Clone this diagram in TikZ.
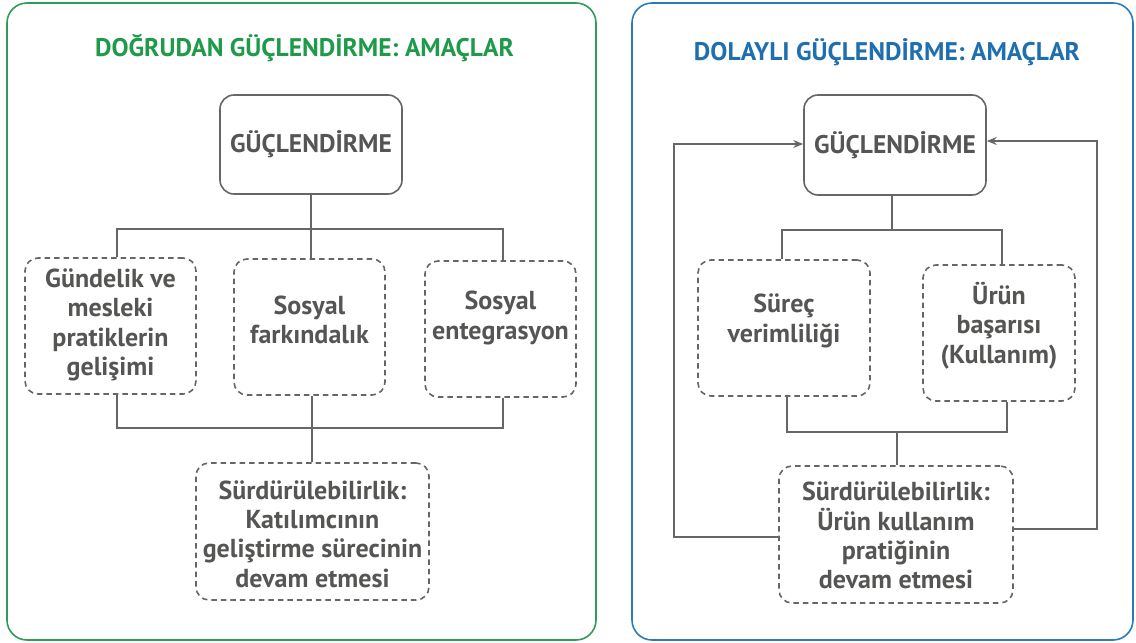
\documentclass[tikz,border=0pt]{standalone}
\usepackage{fontspec}
\setmainfont{PT Sans}
\usetikzlibrary{arrows.meta,calc}
\definecolor{grn}{HTML}{2E9C55}
\definecolor{grntxt}{HTML}{1E9A4A}
\definecolor{blu}{HTML}{2C7BB8}
\definecolor{blutxt}{HTML}{1F6FB0}
\definecolor{txtgray}{HTML}{555654}
\definecolor{lngray}{HTML}{666765}
\begin{document}
\begin{tikzpicture}[x=1pt,y=-1pt,
  panel/.style={line width=1.6pt,rounded corners=20pt},
  ttl/.style={font=\fontsize{25.5}{28}\selectfont\bfseries,inner sep=0pt},
  mainbox/.style={draw=lngray,line width=1.6pt,rounded corners=14pt,inner sep=0pt,
    text=txtgray,font=\fontsize{25.5}{28}\selectfont\bfseries},
  dbox/.style={draw=lngray,line width=1.6pt,dash pattern=on 5.5pt off 4pt,rounded corners=13pt,inner sep=0pt},
  txt/.style={text=txtgray,align=center,inner sep=0pt,font=\fontsize{26}{29.3}\selectfont\bfseries},
  conn/.style={draw=lngray,line width=1.6pt},
  fb/.style={conn,-{Stealth[length=10pt,width=8pt,inset=3.5pt]}}]
\useasboundingbox (0,0) rectangle (1136,643);
% panels
\draw[panel,draw=grn] (7,3) rectangle (596,640);
\draw[panel,draw=blu] (632,3) rectangle (1133,640);
\node[ttl,text=grntxt] (ltitle) at (304.5,48) {DOĞRUDAN GÜÇLENDİRME: AMAÇLAR};
\node[ttl,text=blutxt] (rtitle) at (887,52) {DOLAYLI GÜÇLENDİRME: AMAÇLAR};
% left panel
\node[mainbox,minimum width=182pt,minimum height=99pt] (LG) at (311,144.5) {GÜÇLENDİRME};
\node[dbox,minimum width=171pt,minimum height=136pt] (L1) at (110.5,326) {};
\node[txt] (L1t) at (110.5,325) {Gündelik ve\\mesleki\\pratiklerin\\gelişimi};
\node[dbox,minimum width=151pt,minimum height=136pt] (L2) at (309.5,327) {};
\node[txt] (L2t) at (309.5,320) {Sosyal\\farkındalık};
\node[dbox,minimum width=151pt,minimum height=136pt] (L3) at (500.5,329) {};
\node[txt] (L3t) at (500.5,318) {Sosyal\\entegrasyon};
\node[dbox,minimum width=233pt,minimum height=137pt] (LS) at (312.5,531.5) {};
\node[txt] (LSt) at (312.5,534) {Sürdürülebilirlik:\\Katılımcının\\geliştirme sürecinin\\devam etmesi};
\coordinate (lt) at (311,229);
\coordinate (lb) at (312,428);
\draw[conn] (LG.south) -- (lt);
\draw[conn] ([xshift=6.5pt]L1.north) |- (lt) -| ([xshift=2.5pt]L3.north);
\draw[conn] (lt) -- (lt |- L2.north);
\draw[conn] ([xshift=6.5pt]L1.south) |- (lb) -| ([xshift=2.5pt]L3.south);
\draw[conn] (L2.south -| lb) -- (LS.north -| lb);
% right panel
\node[mainbox,minimum width=182pt,minimum height=100pt] (RG) at (895,145) {GÜÇLENDİRME};
\node[dbox,minimum width=172pt,minimum height=136pt] (R1) at (784,328) {};
\node[txt] (R1t) at (784,321) {Süreç\\verimliliği};
\node[dbox,minimum width=152pt,minimum height=136pt] (R2) at (999,333) {};
\node[txt] (R2t) at (999,325.5) {Ürün\\başarısı\\(Kullanım)};
\node[dbox,minimum width=234pt,minimum height=137pt] (RS) at (896,534.5) {};
\node[txt] (RSt) at (896,535.5) {Sürdürülebilirlik:\\Ürün kullanım\\pratiğinin\\devam etmesi};
\coordinate (rt) at (892,230);
\coordinate (rb) at (897,432);
\coordinate (fl) at (674,144);
\coordinate (fr) at (1097,141);
\draw[conn] (RG.south -| rt) -- (rt);
\draw[conn] ([xshift=-2pt]R1.north) |- (rt) -| ([xshift=3pt]R2.north);
\draw[conn] ([xshift=3pt]R1.south) |- (rb) -| ([xshift=8pt]R2.south);
\draw[conn] (rb) -- (RS.north -| rb);
\draw[fb] ([yshift=-2.5pt]RS.west) -| (fl) -- (fl -| RG.west);
\draw[fb] ([yshift=5.5pt]RS.east) -| (fr) -- (fr -| RG.east);
\end{tikzpicture}
\end{document}
